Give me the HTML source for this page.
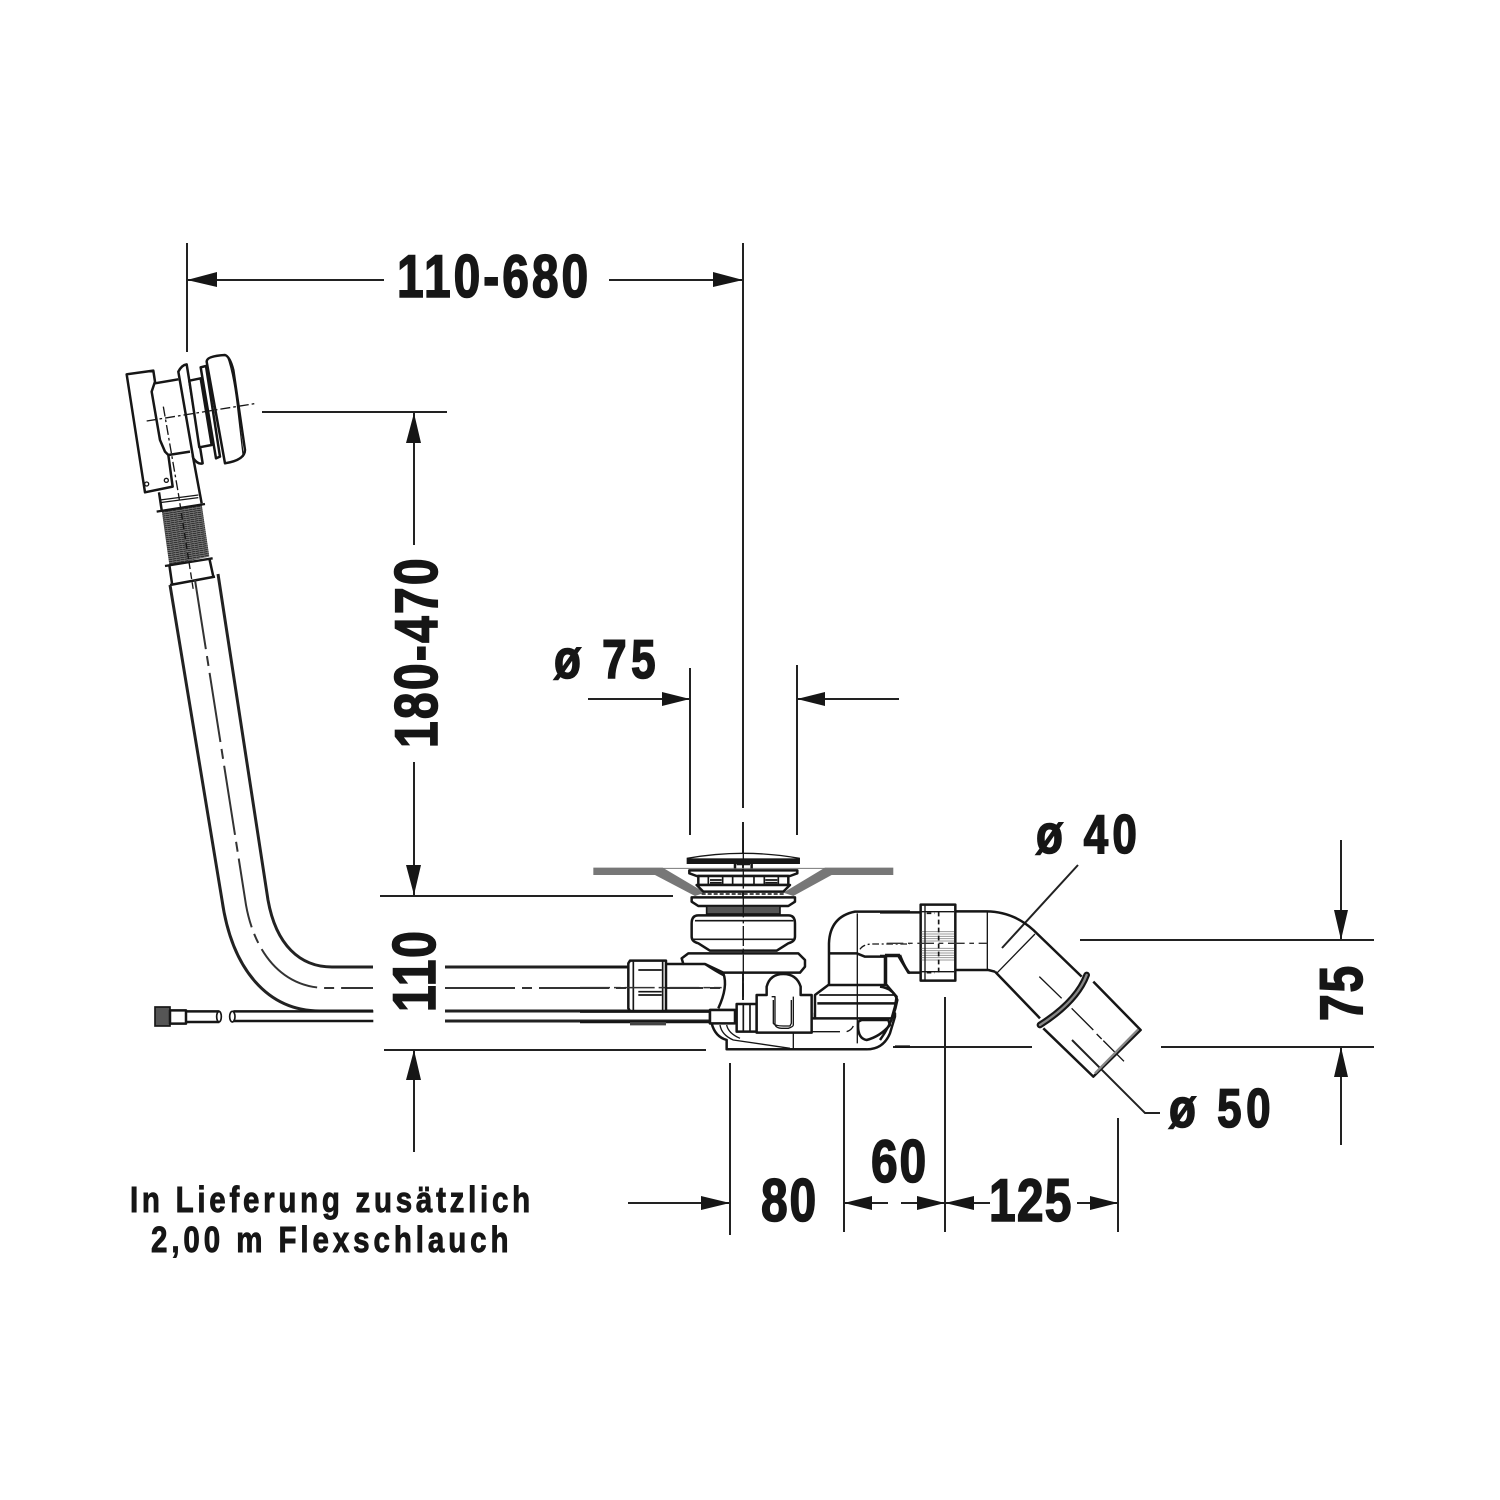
<!DOCTYPE html>
<html><head><meta charset="utf-8"><style>
html,body{margin:0;padding:0;background:#fff}
svg{display:block}
text{font-family:"Liberation Sans",sans-serif;font-weight:bold;fill:#161616;stroke:#161616;stroke-width:1.6;}
text.s{stroke-width:.9}
.d{stroke:#222;stroke-width:2;fill:none}
.z{stroke:#161616;stroke-width:7.5;fill:none;stroke-linejoin:round}
.zw{stroke:#161616;stroke-width:7.5;fill:#fff;stroke-linejoin:round}
.t{stroke:#222;stroke-width:3;fill:none}
.c{stroke:#333;stroke-width:2;fill:none;stroke-dasharray:70 7 10 7}
</style></head><body>
<svg width="1500" height="1500" viewBox="0 0 1500 1500" xmlns="http://www.w3.org/2000/svg">
<defs><pattern id="h" width="12" height="6" patternUnits="userSpaceOnUse" patternTransform="rotate(-9)"><rect width="12" height="6" fill="#333"/><rect y="3" width="12" height="1.3" fill="#bbb"/><rect x="9" width="1.3" height="6" fill="#777"/></pattern></defs>

<!-- dimension lines -->
<g class="d">
<path d="M187 243V352M743 243V808M743 822V1000M187 280H384M609 280H743"/>
<path d="M262 412H447M414 413V545M414 762V895M380 896H673"/>
<path d="M384 1050H706M414 1050V1152"/>
<path d="M690 668V835M797 665V835M588 699H690M899 699H797"/>
<path d="M730 1063V1235M844 1063V1232M945 997V1232M1118 1118V1232M628 1203H730M844 1203H888M901 1203H945M945 1203H990M1077 1203H1118"/>
<path d="M1341 840V940M1341 1145V1047M1080 940H1374M1161 1047H1374M893 1047H1032"/>
<path d="M1078 865L1002 948M1072 1040L1145 1113H1160"/>
</g>
<g fill="#161616">
<path d="M187 280l30-8v15zM743 280l-30-8v15z"/>
<path d="M414 413l-8 30h15zM414 895l-8-30h15zM414 1050l-8 30h15z"/>
<path d="M690 699l-28-7v14zM797 699l28-7v14z"/>
<path d="M730 1203l-29-7v14zM844 1203l28-7v14zM945 1203l-28-7v14zM945 1203l29-7v14zM1118 1203l-28-7v14z"/>
<path d="M1341 940l-7-30h14zM1341 1047l-7 30h14z"/>
</g>

<!-- top device -->
<g transform="translate(110 340) scale(.3333)">
<path class="zw" d="M50 103L130 92L135 125L125 155L150 300L165 335L175 345L188 440L105 457Z"/>
<circle class="z" cx="110" cy="432" r="6" style="stroke-width:4"/><circle class="z" cx="169" cy="421" r="6" style="stroke-width:4"/>
<path class="z" d="M135 130L205 118M175 345L240 335M248 345L275 490M147 457L155 510"/>
<path class="zw" d="M205 95Q215 75 230 73L278 370Q265 375 250 355Z"/>
<path class="zw" d="M238 122L272 115L305 315L268 322Z"/>
<path class="zw" d="M272 82L288 78L330 350L318 355Z"/>
<path class="zw" d="M290 65Q290 48 345 45Q360 50 370 90L405 330Q405 360 345 370Z"/>
<path class="z" style="stroke-width:4" d="M352 48Q372 100 385 220L400 350"/>
<path class="z" style="stroke-width:4;stroke-dasharray:30 9 8 9" d="M110 243L440 190M160 200L205 460"/>
<path class="z" style="stroke-width:4" d="M150 480L265 465M150 488L265 473"/>
<path d="M155 510L275 492L298 650L178 675Z" fill="url(#h)"/>
<path class="z" style="stroke-width:7" d="M140 515L285 492M165 678L308 655"/>
<path class="z" d="M178 675L186 730M298 655L310 710M180 735L315 710"/>
<path class="z" style="stroke-width:4;stroke-dasharray:20 10" d="M205 460L250 750"/>
</g>

<!-- hose -->
<path class="t" d="M170 585L222 900C232 970 268 1011 320 1011H373M445 1011H720"/>
<path class="t" d="M218 574L268 900C276 945 300 967 332 967H373M445 967H627"/>
<path class="c" d="M195 580L246 905C254 950 280 987 325 988H373M445 988H725"/>
<g transform="translate(140 930) scale(.3333)">
<rect x="45" y="231" width="45" height="57" fill="#555" stroke="#161616" stroke-width="5"/>
<rect x="90" y="241" width="48" height="40" class="zw"/>
<path class="z" d="M138 244H238M138 276H238M280 244H700M280 273H700"/>
<ellipse cx="237" cy="260" rx="7" ry="16" class="z" style="stroke-width:5"/>
<ellipse cx="277" cy="260" rx="8" ry="16" class="z" style="stroke-width:5"/>
</g>
<path class="t" d="M445 1021H712"/>

<!-- waste body -->
<g transform="translate(580 840) scale(.3333)">
<path d="M40 83H248L375 158L345 168L225 105H40ZM940 83H735L610 158L640 168L755 105H940Z" fill="#777"/>
<path d="M248 85H735" stroke="#777" stroke-width="3"/>
<path d="M322 55Q490 25 658 55V70H322Z" fill="#fff" stroke="#161616" stroke-width="4"/>
<rect x="322" y="55" width="336" height="15" fill="#161616"/>
<path class="z" d="M465 70V86M515 70V86M470 72H510"/>
<path class="zw" d="M328 91H652V100L630 108H350L328 100Z"/>
<rect x="355" y="108" width="270" height="27" class="zw"/>
<path class="z" style="stroke-width:5" d="M385 108V135M428 108V135M458 108V135M490 108V135M522 108V135M553 108V135M595 108V135M390 120H425M556 120H592M390 128H425M556 128H592"/>
<path class="zw" d="M350 135H630L610 155H370Z"/>
<path d="M365 162H615" stroke="#333" stroke-width="5" stroke-dasharray="12 6"/>
<path class="zw" d="M335 172H645V185L625 198H355L335 185Z"/>
<rect x="380" y="198" width="220" height="24" fill="#555" stroke="#161616" stroke-width="5"/>
<path class="zw" d="M355 226H625Q645 226 645 250V290Q645 305 625 310L590 332H390L355 310Q335 305 335 290V250Q335 226 355 226Z"/>
<path class="z" style="stroke-width:5" d="M345 242H640M337 298H643"/>
<path class="zw" d="M325 340H655L675 360V380L660 398H430L375 372H310L305 355Z"/>
<path class="z" d="M430 400Q445 440 415 505"/>
<!-- nut -->
<path class="zw" d="M150 362H258V513H150L145 505V370Z"/>
<path class="z" style="stroke-width:5" d="M160 365V513M248 360V513M175 390H245M175 455H245M175 465H245"/>
<path class="z" d="M258 372H310M0 381H145M375 372Q410 395 430 405M0 515H390M0 546H390"/>
<path d="M150 546H258V556H150Z" fill="#444"/>
<path d="M0 443H425" fill="none" stroke="#333" stroke-width="4.5" stroke-dasharray="90 12 20 12"/>
<!-- lower body -->
<path class="zw" d="M395 550Q405 590 440 600V628H860Q910 628 930 580L945 530V520H705V535H465V510H390V550Z"/>
<path class="z" style="stroke-width:4" d="M420 555Q425 585 460 600L630 625M440 555Q445 580 480 595M640 580V628"/>
<path class="zw" d="M470 492H530V575H470Z"/>
<path class="z" style="stroke-width:5" d="M490 492V575M510 492V575"/>
<path class="zw" d="M530 465H560V440Q570 402 610 402Q650 402 662 440V465H695V578H530Z"/>
<path class="z" style="stroke-width:4" d="M575 470H585V555Q590 565 605 565H625Q640 560 640 555V470M580 480V550Q585 558 610 558H630L634 550V480"/>
<path class="zw" d="M390 510H465V550H390Z"/>
<path class="zw" d="M745 435H920L950 470L945 500L935 535H705V465Z"/>
<path class="z" style="stroke-width:5" d="M718 465H945"/>
<path class="z" d="M712 490H948"/>
<path class="zw" d="M835 545Q830 595 860 600Q900 590 930 555L925 540H845Z"/>
<path class="z" style="stroke-width:4" d="M695 575H780M800 575Q815 570 820 558"/>
<path class="z" d="M440 628H860M945 620H990"/>
<!-- elbow -->
<path class="z" d="M747 435V310Q750 230 825 215H990M747 340H830L855 350H915V435M915 345H960M960 345Q975 385 990 400"/>
<path class="z" style="stroke-width:4" d="M832 220V610"/>
<path class="z" style="stroke-width:4;stroke-dasharray:20 8 6 8" d="M840 328Q850 312 880 312H990"/>
<path class="z" style="stroke-width:4;stroke-dasharray:60 8 10 8" d="M490 0V430"/>
<path class="z" style="stroke-width:4" d="M490 430V470"/>
</g>

<!-- outlet -->
<g transform="translate(880 890) scale(.3333)">
<path class="z" d="M0 67H122M228 64H320Q400 65 460 120L605 260M640 275L782 420L640 560L490 415M345 245L480 385M228 240H325L345 245"/>
<path class="z" style="stroke-width:4" d="M322 64V240M350 250L465 132"/>
<path class="zw" d="M122 44H226V272H122Z"/>
<path d="M125 125H222M125 132H222M125 139H222M125 146H222M125 153H222M125 175H222M125 182H222M125 189H222M125 196H222M125 203H222M125 210H222" stroke="#999" stroke-width="3"/>
<path class="z" style="stroke-width:4" d="M135 44V272M125 65H222M125 245H222"/>
<path class="z" style="stroke-dasharray:14 10;stroke-width:5" d="M176 65V255M140 70H165M140 248H165"/>
<path d="M20 160H322" stroke="#333" stroke-width="4" stroke-dasharray="50 14 14 14"/>
<path class="z" d="M0 198H55L85 248H122M18 198V285M0 290Q40 295 52 330Q40 395 0 450"/>
<path d="M620 255Q590 335 480 405" fill="none" stroke="#161616" stroke-width="20" stroke-linecap="round"/>
<path d="M620 255Q590 335 480 405" fill="none" stroke="#888" stroke-width="7" stroke-linecap="round"/>
<path class="z" style="stroke-width:4" d="M478 260L545 325M575 355L640 420M650 432L665 447M670 452L732 514"/>
<path d="M775 418L645 550" stroke="#888" stroke-width="7" fill="none"/>
</g>

<!-- labels -->
<text transform="translate(397 297) scale(.8 1)" font-size="60" textLength="239" lengthAdjust="spacing">110-680</text>
<text transform="translate(437 748) rotate(-90) scale(.8 1)" font-size="60" textLength="237" lengthAdjust="spacing">180-470</text>
<text transform="translate(435 1012) rotate(-90) scale(.8 1)" font-size="60" textLength="101" lengthAdjust="spacing">110</text>
<text transform="translate(1362 1021) rotate(-90) scale(.8 1)" font-size="60" textLength="69" lengthAdjust="spacing">75</text>
<text transform="translate(554 678) scale(.8 1)" font-size="55" textLength="127" lengthAdjust="spacing">ø 75</text>
<text transform="translate(1036 853) scale(.8 1)" font-size="55" textLength="126" lengthAdjust="spacing">ø 40</text>
<text transform="translate(1169 1127) scale(.8 1)" font-size="55" textLength="127" lengthAdjust="spacing">ø 50</text>
<text transform="translate(761 1221) scale(.8 1)" font-size="60" textLength="69" lengthAdjust="spacing">80</text>
<text transform="translate(871 1182) scale(.8 1)" font-size="60" textLength="69" lengthAdjust="spacing">60</text>
<text transform="translate(989 1221) scale(.8 1)" font-size="60" textLength="103" lengthAdjust="spacing">125</text>
<text class="s" transform="translate(130 1212) scale(.82 1)" font-size="36" textLength="488" lengthAdjust="spacing">In Lieferung zusätzlich</text>
<text class="s" transform="translate(151 1252) scale(.82 1)" font-size="36" textLength="436" lengthAdjust="spacing">2,00 m Flexschlauch</text>
</svg>
</body></html>
